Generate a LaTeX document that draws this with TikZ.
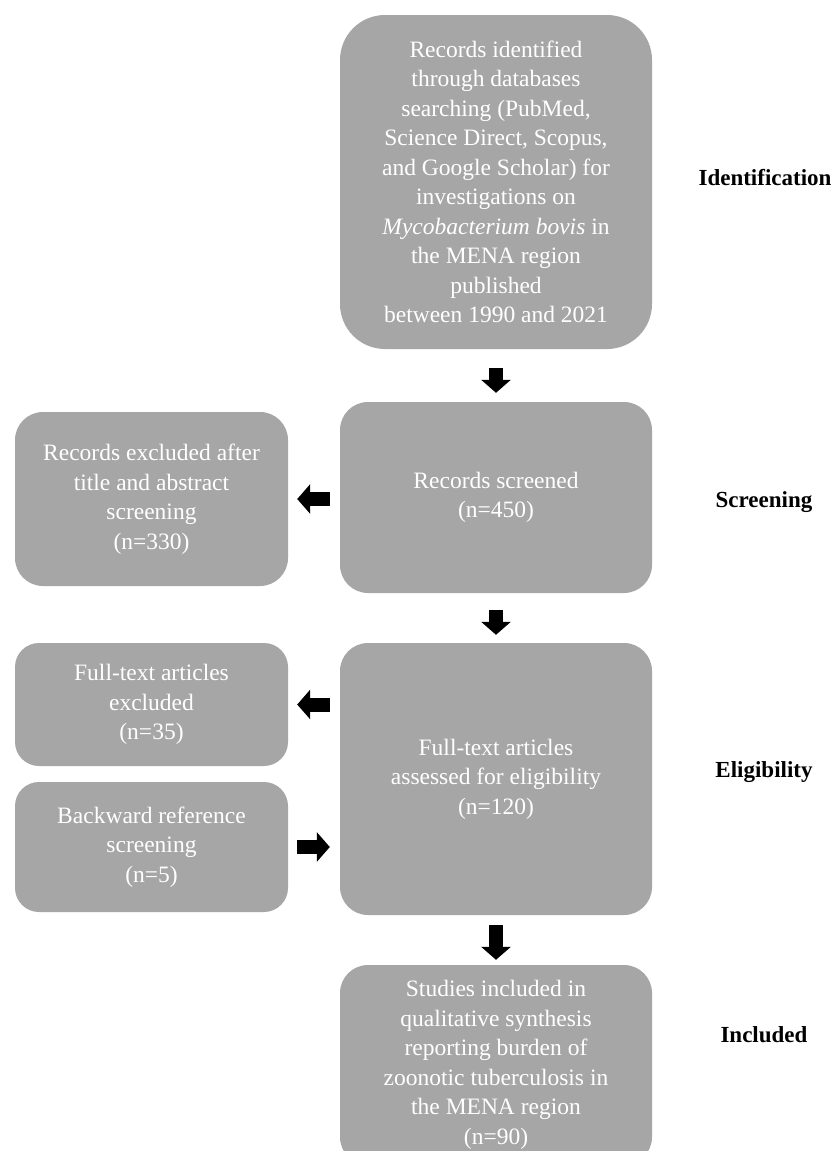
\documentclass[tikz,border=0pt]{standalone}
\usepackage{fontspec}
\setmainfont{Liberation Serif}
\usetikzlibrary{arrows.meta}
\definecolor{boxgray}{RGB}{166,166,166}
\begin{document}
\begin{tikzpicture}[x=1pt, y=-1pt,
  box/.style={rectangle, rounded corners=28pt, fill=boxgray, text=white, align=center, inner sep=0pt, font=\fontsize{23.5}{29.5}\selectfont},
  stage/.style={font=\fontsize{23}{27}\selectfont\bfseries},
  fat/.style={line width=14pt, -{Triangle[width=29pt,length=13pt]}}]
\path[use as bounding box, fill=white] (0,0) rectangle (838,1151);
\node [box, rounded corners=45pt, minimum width=312pt, minimum height=334pt] (ident) at (496,182)
  {Records identified\\ through databases\\ searching (PubMed,\\ Science Direct, Scopus,\\ and Google Scholar) for\\ investigations on\\ \textit{Mycobacterium bovis} in\\ the MENA region\\ published\\ between 1990 and 2021};
\node [box, minimum width=312pt, minimum height=191pt] (screen) at (496,497.5) {Records screened\\ (n=450)};
\node [box, minimum width=273pt, minimum height=174pt] (excl) at (151.5,499) {Records excluded after\\ title and abstract\\ screening\\ (n=330)};
\node [box, minimum width=312pt, minimum height=272pt] (elig) at (496,779) {Full-text articles\\ assessed for eligibility\\ (n=120)};
\node [box, rounded corners=24pt, minimum width=273pt, minimum height=123pt] (ftx) at (151.5,704.5) {Full-text articles\\ excluded\\ (n=35)};
\node [box, rounded corners=24pt, minimum width=273pt, minimum height=130pt] (back) at (151.5,847) {Backward reference\\ screening\\ (n=5)};
\node [box, minimum width=312pt, minimum height=200pt] (incl) at (496,1065) {Studies included in\\ qualitative synthesis\\ reporting burden of\\ zoonotic tuberculosis in\\ the MENA region\\ (n=90)};
\node [stage] (s1) at (765,178) {Identification};
\node [stage] (s2) at (764,502) {Screening};
\node [stage] (s3) at (764,772) {Eligibility};
\node [stage] (s4) at (764,1035) {Included};
\draw [fat, shorten <=19pt, shorten >=9pt] (ident) -- (screen);
\draw [fat, shorten <=17pt, shorten >=8pt] (screen) -- (elig);
\draw [fat, shorten <=10pt, shorten >=5pt] (elig) -- (incl);
\draw [fat, shorten <=10pt, shorten >=9pt] (screen.west |- excl) -- (excl.east);
\draw [fat, shorten <=10pt, shorten >=9pt] (elig.west |- ftx) -- (ftx.east);
\draw [fat, shorten <=9pt, shorten >=10pt] (back.east) -- (elig.west |- back);
\end{tikzpicture}
\end{document}
